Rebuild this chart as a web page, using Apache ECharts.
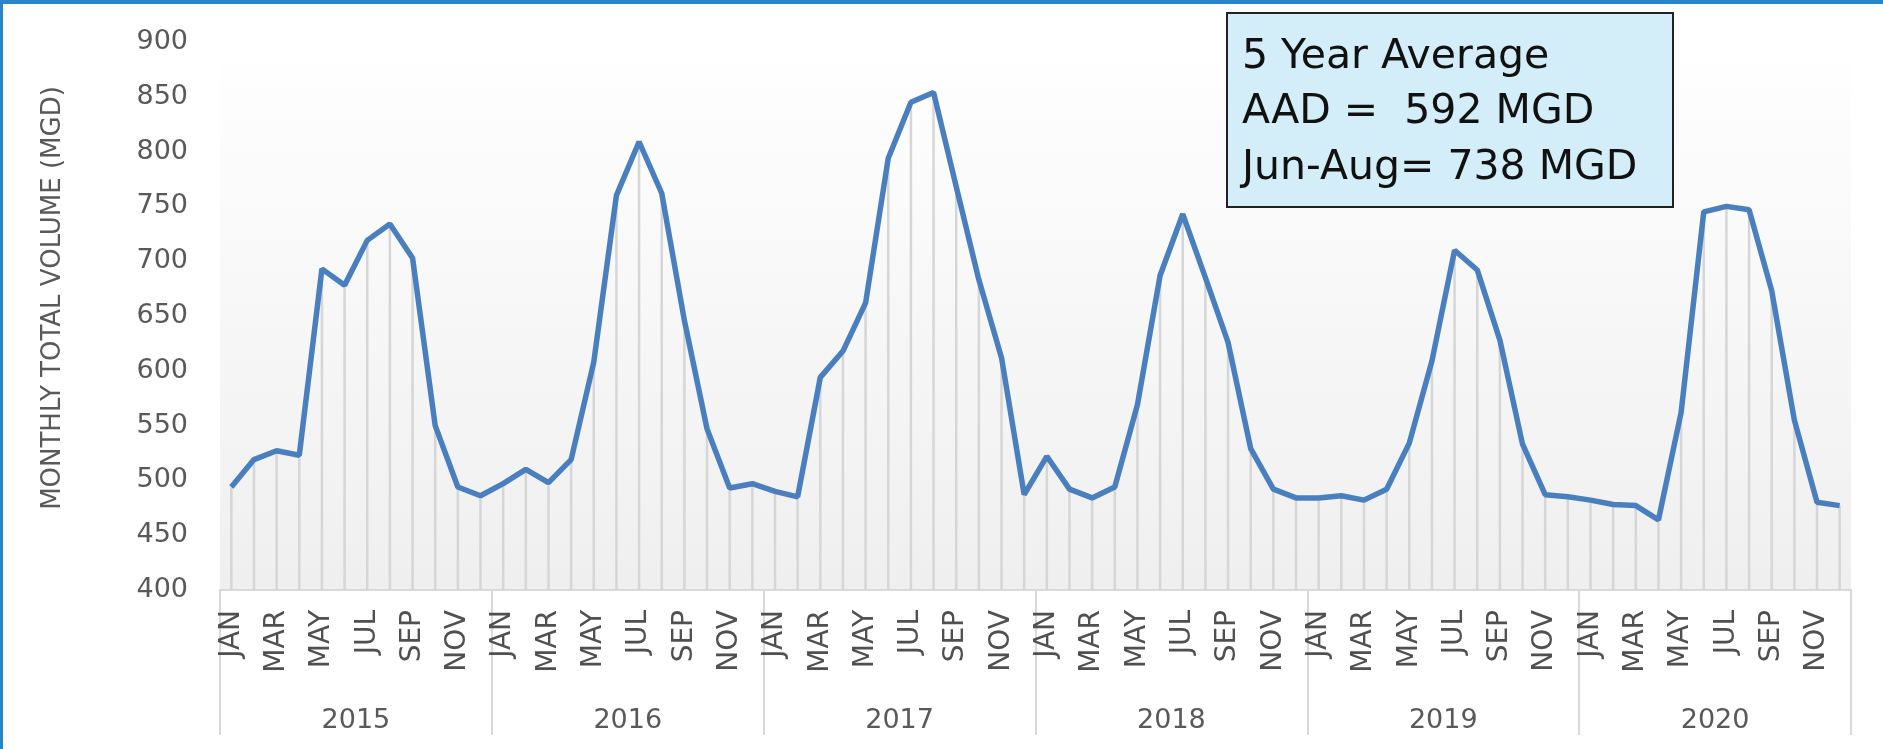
<!DOCTYPE html>
<html>
<head>
<meta charset="utf-8">
<title>Monthly Total Volume</title>
<script src="https://cdn.jsdelivr.net/npm/echarts@6/dist/echarts.min.js"></script>
<style>
  html, body { margin: 0; padding: 0; background: #fff; }
  #wrap { position: relative; width: 1883px; height: 749px; overflow: hidden; }
  #main { position: absolute; left: 0; top: 0; width: 1883px; height: 749px; }
  .edge { position: absolute; background: #2a85c8; }
</style>
</head>
<body>
<div id="wrap">
  <div id="main"></div>
  <div class="edge" style="left:0;top:0;width:1883px;height:4px;"></div>
  <div class="edge" style="left:0;top:0;width:3px;height:749px;"></div>
</div>
<script>
var months = ['JAN', 'FEB', 'MAR', 'APR', 'MAY', 'JUN', 'JUL', 'AUG', 'SEP', 'OCT', 'NOV', 'DEC'];
var years = ['2015', '2016', '2017', '2018', '2019', '2020'];

// monthly total volume (MGD), one row per year
var vol2015 = [494, 519, 527, 523, 693, 678, 719, 734, 703, 550, 494, 486];
var vol2016 = [497, 510, 498, 519, 608, 760, 809, 762, 646, 547, 493, 497];
var vol2017 = [490, 485, 594, 618, 662, 794, 845, 854, 768, 683, 612, 487];
var vol2018 = [522, 492, 484, 494, 569, 687, 743, 685, 626, 529, 492, 484];
var vol2019 = [484, 486, 482, 492, 534, 609, 710, 692, 628, 533, 487, 485];
var vol2020 = [482, 478, 477, 464, 562, 745, 750, 747, 673, 555, 480, 477];

var yTicks = { min: 400, max: 900, step: 50 };
var boxLines = ['5 Year Average', 'AAD =  592 MGD', 'Jun-Aug= 738 MGD'];

var categories = [];
years.forEach(function (y) {
  months.forEach(function (m) { categories.push(m + ' ' + y); });
});
var volume = [].concat(vol2015, vol2016, vol2017, vol2018, vol2019, vol2020);

var font = 'DejaVu Sans';
var grey = '#595959';
var myChart = echarts.init(document.getElementById('main'));

var option = {
  animation: false,
  grid: {
    left: 220, right: 32, top: 42, bottom: 159,
    show: true,
    borderWidth: 0,
    backgroundColor: new echarts.graphic.LinearGradient(0, 0, 0, 1, [
      { offset: 0, color: '#ffffff' },
      { offset: 1, color: '#efefef' }
    ])
  },
  xAxis: [
    {
      type: 'category',
      data: categories,
      boundaryGap: true,
      axisLine: { lineStyle: { color: '#d9d9d9', width: 2 } },
      axisTick: { show: false },
      axisLabel: {
        interval: 1,
        rotate: 90,
        margin: 20,
        fontSize: 28,
        fontFamily: font,
        color: '#505050',
        formatter: function (v) { return v.split(' ')[0]; }
      }
    },
    {
      type: 'category',
      data: years,
      position: 'bottom',
      boundaryGap: true,
      axisLine: { show: false },
      axisTick: { show: true, interval: 0, length: 145, lineStyle: { color: '#d9d9d9', width: 2 } },
      axisLabel: { margin: 117, fontSize: 27, fontFamily: font, color: grey }
    }
  ],
  yAxis: {
    type: 'value',
    min: yTicks.min,
    max: yTicks.max,
    interval: yTicks.step,
    axisLine: { show: false },
    axisTick: { show: false },
    splitLine: { show: false },
    axisLabel: { margin: 32, fontSize: 27, fontFamily: font, color: grey }
  },
  series: [
    {
      // drop lines from each point to the axis
      type: 'bar',
      xAxisIndex: 0,
      data: volume,
      barWidth: 2.5,
      silent: true,
      itemStyle: { color: '#d6d6d6' }
    },
    {
      type: 'line',
      xAxisIndex: 0,
      data: volume,
      symbol: 'none',
      lineStyle: { color: '#4a7fbf', width: 5.5 },
      z: 3
    }
  ],
  graphic: [
    {
      type: 'text',
      x: 53, y: 298,
      rotation: Math.PI / 2,
      style: {
        text: 'MONTHLY TOTAL VOLUME (MGD)',
        fontSize: 26, fontFamily: font, fill: grey,
        align: 'center', verticalAlign: 'middle'
      }
    },
    {
      type: 'rect',
      shape: { x: 1227, y: 13, width: 446, height: 194 },
      style: { fill: '#d3eef9', stroke: '#222', lineWidth: 2 },
      z: 10
    },
    {
      type: 'text', x: 1242, y: 57, z: 11,
      style: { text: boxLines[0], fontSize: 41, fontFamily: font, fill: '#111', verticalAlign: 'middle' }
    },
    {
      type: 'text', x: 1242, y: 112, z: 11,
      style: { text: boxLines[1], fontSize: 41, fontFamily: font, fill: '#111', verticalAlign: 'middle' }
    },
    {
      type: 'text', x: 1242, y: 168, z: 11,
      style: { text: boxLines[2], fontSize: 41, fontFamily: font, fill: '#111', verticalAlign: 'middle' }
    }
  ]
};

myChart.setOption(option);
</script>
</body>
</html>
